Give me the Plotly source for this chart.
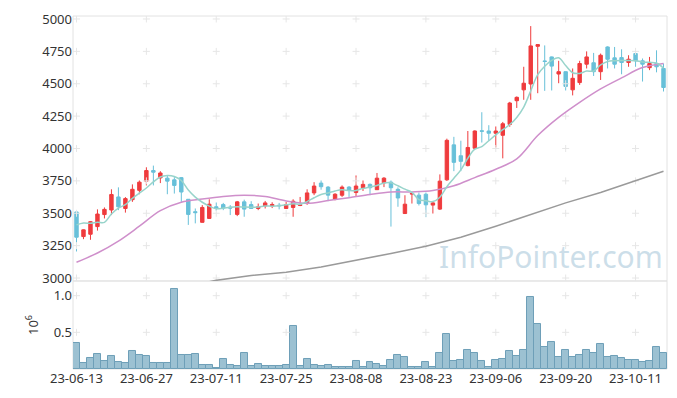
import plotly.graph_objects as go

# ---------------- data ----------------
dates = [
    "23-06-13", "23-06-14", "23-06-15", "23-06-16", "23-06-19", "23-06-20", "23-06-21", "23-06-22", "23-06-23", "23-06-26",
    "23-06-27", "23-06-28", "23-06-29", "23-06-30", "23-07-03", "23-07-04", "23-07-05", "23-07-06", "23-07-07", "23-07-10",
    "23-07-11", "23-07-12", "23-07-13", "23-07-14", "23-07-17", "23-07-18", "23-07-19", "23-07-20", "23-07-21", "23-07-24",
    "23-07-25", "23-07-26", "23-07-27", "23-07-28", "23-07-31", "23-08-01", "23-08-02", "23-08-03", "23-08-04", "23-08-07",
    "23-08-08", "23-08-09", "23-08-10", "23-08-11", "23-08-14", "23-08-16", "23-08-17", "23-08-18", "23-08-21", "23-08-22",
    "23-08-23", "23-08-24", "23-08-25", "23-08-28", "23-08-29", "23-08-30", "23-08-31", "23-09-01", "23-09-04", "23-09-05",
    "23-09-06", "23-09-07", "23-09-08", "23-09-11", "23-09-12", "23-09-13", "23-09-14", "23-09-15", "23-09-18", "23-09-19",
    "23-09-20", "23-09-21", "23-09-22", "23-09-25", "23-09-26", "23-09-27", "23-10-04", "23-10-05", "23-10-06", "23-10-10",
    "23-10-11", "23-10-12", "23-10-13", "23-10-16", "23-10-17",
]

open_ = [
    3510, 3320, 3338, 3397, 3490, 3525, 3626, 3537, 3605, 3677,
    3748, 3830, 3773, 3771, 3758, 3775, 3608, 3512, 3430, 3460,
    3550, 3567, 3547, 3491, 3588, 3567, 3537, 3557, 3557, 3562,
    3537, 3545, 3560, 3575, 3657, 3733, 3702, 3608, 3639, 3702,
    3660, 3697, 3723, 3682, 3735, 3740, 3685, 3498, 3648, 3640,
    3647, 3563, 3532, 3758, 4028, 3944, 3868, 4002, 4137, 4135,
    4118, 4102, 4186, 4369, 4453, 4498, 4789, 4676, 4707, 4575,
    4593, 4453, 4509, 4651, 4662, 4593, 4784, 4700, 4702, 4664,
    4733, 4677, 4624, 4656, 4618,
]
high = [
    3512, 3375, 3440, 3530, 3545, 3685, 3700, 3625, 3723, 3753,
    3855, 3868, 3825, 3790, 3779, 3780, 3610, 3537, 3563, 3608,
    3583, 3580, 3563, 3595, 3605, 3593, 3575, 3595, 3585, 3580,
    3588, 3608, 3626, 3685, 3740, 3753, 3710, 3655, 3715, 3710,
    3792, 3753, 3730, 3811, 3779, 3753, 3700, 3639, 3665, 3660,
    3660, 3590, 3800, 4076, 4090, 4060, 4135, 4140, 4280, 4180,
    4170, 4205, 4360, 4402, 4631, 4945, 4805, 4796, 4710, 4677,
    4595, 4618, 4677, 4750, 4738, 4733, 4789, 4784, 4766, 4720,
    4735, 4695, 4707, 4758, 4656,
]
low = [
    3205, 3300, 3295, 3366, 3460, 3486, 3524, 3505, 3588, 3647,
    3715, 3715, 3733, 3647, 3652, 3588, 3410, 3422, 3428, 3458,
    3519, 3524, 3486, 3478, 3473, 3535, 3524, 3537, 3540, 3530,
    3535, 3473, 3555, 3565, 3640, 3682, 3593, 3600, 3626, 3626,
    3626, 3672, 3640, 3680, 3702, 3397, 3550, 3494, 3575, 3560,
    3470, 3498, 3525, 3750, 3825, 3825, 3862, 3995, 4046, 4060,
    4008, 3924, 4168, 4313, 4376, 4376, 4427, 4445, 4448, 4504,
    4448, 4410, 4491, 4618, 4560, 4529, 4618, 4618, 4573, 4631,
    4631, 4517, 4605, 4588, 4440,
]
close = [
    3315, 3372, 3435, 3494, 3530, 3645, 3550, 3613, 3685, 3740,
    3830, 3817, 3811, 3748, 3715, 3664, 3491, 3505, 3545, 3570,
    3540, 3540, 3540, 3588, 3532, 3537, 3550, 3580, 3568, 3558,
    3567, 3593, 3565, 3657, 3710, 3705, 3640, 3647, 3702, 3677,
    3710, 3723, 3697, 3771, 3771, 3697, 3618, 3570, 3652, 3575,
    3565, 3580, 3748, 4063, 3893, 3901, 4008, 4135, 4133, 4118,
    4135, 4191, 4351, 4395, 4504, 4792, 4802, 4672, 4636, 4593,
    4479, 4542, 4656, 4707, 4593, 4720, 4689, 4651, 4664, 4689,
    4677, 4651, 4656, 4631, 4471,
]
volume_m = [
    0.36, 0.077, 0.145, 0.198, 0.108, 0.176, 0.095, 0.077, 0.243, 0.189,
    0.176, 0.077, 0.077, 0.077, 1.09, 0.189, 0.189, 0.198, 0.05, 0.05,
    0.01, 0.131, 0.05, 0.036, 0.225, 0.036, 0.063, 0.036, 0.045, 0.045,
    0.06, 0.59, 0.036, 0.14, 0.05, 0.036, 0.06, 0.025, 0.03, 0.03,
    0.103, 0.03, 0.09, 0.063, 0.045, 0.117, 0.185, 0.158, 0.03, 0.03,
    0.09, 0.03, 0.225, 0.48, 0.103, 0.117, 0.266, 0.225, 0.103, 0.03,
    0.117, 0.131, 0.239, 0.171, 0.266, 0.98, 0.617, 0.306, 0.374, 0.158,
    0.266, 0.158, 0.185, 0.266, 0.225, 0.347, 0.158, 0.171, 0.144, 0.117,
    0.117, 0.09, 0.103, 0.306, 0.225,
]

# 5-day moving average (read at every candle)
ma5 = [
    3410, 3425, 3422, 3430, 3430, 3495, 3540, 3567, 3615, 3655,
    3695, 3742, 3780, 3792, 3784, 3753, 3680, 3625, 3585, 3555,
    3535, 3540, 3547, 3550, 3548, 3547, 3548, 3556, 3555, 3558,
    3565, 3573, 3570, 3590, 3620, 3645, 3656, 3672, 3681, 3675,
    3676, 3692, 3702, 3715, 3733, 3735, 3712, 3686, 3662, 3605,
    3597, 3590, 3624, 3705, 3770, 3835, 3925, 3995, 4015, 4060,
    4105, 4145, 4185, 4240, 4320, 4445, 4570, 4635, 4680, 4700,
    4640, 4585, 4580, 4598, 4598, 4645, 4672, 4678, 4680, 4680,
    4678, 4668, 4665, 4660, 4620,
]
# 20-day moving average (read every 3 candles)
ma20_idx = [0, 3, 6, 9, 12, 15, 18, 21, 24, 27, 30, 33, 36, 39, 42, 45, 48, 51, 54, 57,
            60, 63, 66, 69, 72, 75, 78, 81, 84]
ma20 = [3122, 3193, 3285, 3400, 3520, 3585, 3610, 3630, 3640, 3630, 3595, 3577, 3598, 3620,
        3645, 3664, 3665, 3675, 3712, 3775, 3840, 3920, 4100, 4240, 4356, 4460, 4545, 4625, 4656]
# 120-day moving average (read every 5 candles)
ma120_idx = [19, 20, 25, 30, 35, 40, 45, 50, 55, 60, 65, 70, 75, 80, 84]
ma120 = [2972, 2982, 3020, 3045, 3085, 3135, 3190, 3245, 3315, 3400, 3490, 3580, 3660, 3750, 3824]

price_ticks = [3000, 3250, 3500, 3750, 4000, 4250, 4500, 4750, 5000]
vol_ticks = [0.5, 1.0]
vol_tick_text = ["0.5", "1.0"]
xtick_idx = [0, 10, 20, 30, 40, 50, 60, 70, 80]

# ---------------- styles ----------------
UP = "#ef3b3d"
DOWN = "#68c0d9"
GRID_MARK = "#e6e6e6"
BORDER = "#e2e2e2"
FONT = "Noto Sans"

PRICE_RANGE = [2977, 5023]
VOL_RANGE = [0, 1.2]
SPLIT = 0.2493

fig = go.Figure()

fig.add_trace(go.Candlestick(
    x=dates, open=open_, high=high, low=low, close=close,
    increasing=dict(line=dict(color=UP, width=1), fillcolor=UP),
    decreasing=dict(line=dict(color=DOWN, width=1), fillcolor=DOWN),
    whiskerwidth=0, showlegend=False, xaxis="x", yaxis="y"))

# grid "+" marks
xt = [dates[i] for i in xtick_idx]
fig.add_trace(go.Scatter(
    x=[d for d in xt for _ in price_ticks], y=[p for _ in xt for p in price_ticks],
    mode="markers", marker=dict(symbol="cross-thin", size=5, line=dict(color=GRID_MARK, width=1)),
    hoverinfo="skip", showlegend=False, xaxis="x", yaxis="y"))
fig.add_trace(go.Scatter(
    x=[d for d in xt for _ in vol_ticks], y=[v for _ in xt for v in vol_ticks],
    mode="markers", marker=dict(symbol="cross-thin", size=5, line=dict(color=GRID_MARK, width=1)),
    hoverinfo="skip", showlegend=False, xaxis="x", yaxis="y2"))

fig.add_trace(go.Scatter(x=[dates[i] for i in ma120_idx], y=ma120, mode="lines",
                         line=dict(color="#9a9a9a", width=1.5), showlegend=False,
                         xaxis="x", yaxis="y"))
fig.add_trace(go.Scatter(x=[dates[i] for i in ma20_idx], y=ma20, mode="lines",
                         line=dict(color="#cf8fcb", width=1.5, shape="spline"), showlegend=False,
                         xaxis="x", yaxis="y"))
fig.add_trace(go.Scatter(x=dates, y=ma5, mode="lines",
                         line=dict(color="#98d4cb", width=1.5, shape="spline"), showlegend=False,
                         xaxis="x", yaxis="y"))

fig.add_trace(go.Bar(x=dates, y=volume_m, marker=dict(color="#9cc1d2", line=dict(color="#6e9fb8", width=1)),
                     showlegend=False, xaxis="x", yaxis="y2"))

fig.update_layout(
    width=677, height=398,
    margin=dict(l=73, r=10, t=12, b=29),
    paper_bgcolor="white", plot_bgcolor="white",
    font=dict(family=FONT, size=13, color="#333333"),
    bargap=0,
    hovermode=False,
    xaxis=dict(type="category", categoryorder="array", categoryarray=dates,
               anchor="y2", range=[-0.5, len(dates) - 0.5],
               tickmode="array", tickvals=xt, ticktext=xt, tickangle=0,
               showgrid=False, zeroline=False,
               rangeslider=dict(visible=False), ticks="", showline=False,
               tickfont=dict(size=13, color="#333333")),
    yaxis=dict(domain=[SPLIT, 1], range=PRICE_RANGE, tickvals=price_ticks, showgrid=False,
               zeroline=False, ticks="", showline=False, tickfont=dict(size=13, color="#333333")),
    yaxis2=dict(domain=[0, SPLIT], range=VOL_RANGE, tickvals=vol_ticks, ticktext=vol_tick_text,
                showgrid=False, zeroline=False, ticks="", showline=False,
                title=dict(text="10<sup>6</sup>", standoff=12, font=dict(size=13, color="#333333")),
                tickfont=dict(size=13, color="#333333")),
    shapes=[
        dict(type="rect", xref="paper", yref="paper", x0=0, x1=1, y0=SPLIT, y1=1,
             line=dict(color=BORDER, width=1), layer="below"),
        dict(type="rect", xref="paper", yref="paper", x0=0, x1=1, y0=0, y1=SPLIT,
             line=dict(color=BORDER, width=1), layer="below"),
    ],
    annotations=[
        dict(text="InfoPointer.com", xref="paper", yref="paper", x=0.804, y=0.32,
             xanchor="center", yanchor="middle", showarrow=False,
             font=dict(family=FONT, size=30, color="rgba(170,201,218,0.6)")),
    ],
)

fig.write_html("out.html",
               config={"displayModeBar": False},
               post_script="document.body.style.margin='0';document.body.style.overflow='hidden';")
